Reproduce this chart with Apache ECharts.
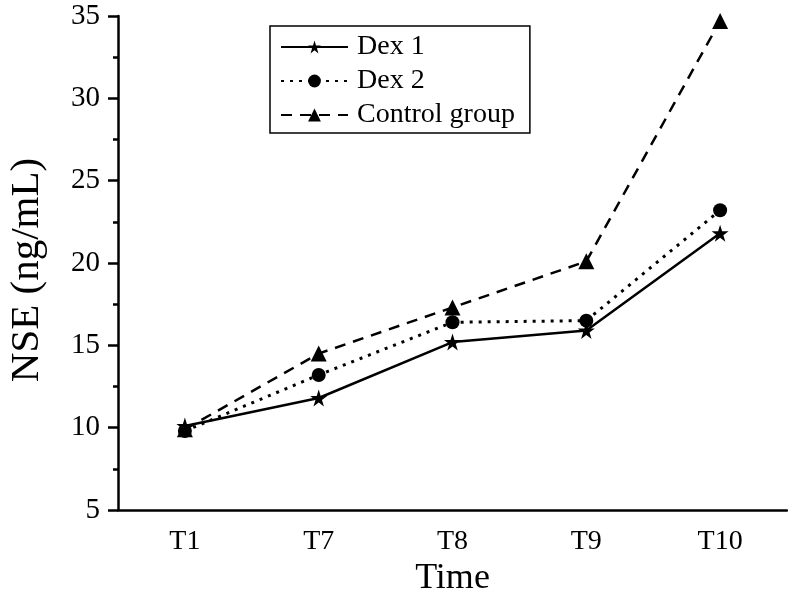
<!DOCTYPE html>
<html>
<head>
<meta charset="utf-8">
<script src="https://cdn.jsdelivr.net/npm/echarts@6/dist/echarts.min.js"></script>
<style>html,body{margin:0;padding:0;background:#fff;}#c{width:788px;height:600px;}</style>
</head>
<body>
<div id="c"></div>
<script>
var categories = ['T1', 'T7', 'T8', 'T9', 'T10'];
var dex1 = [10.1, 11.8, 15.2, 15.9, 21.8];
var dex2 = [9.8, 13.2, 16.4, 16.5, 23.2];
var control = [9.9, 14.5, 17.3, 20.1, 34.7];
var seriesNames = ['Dex 1', 'Dex 2', 'Control group'];

var FONT = '"Liberation Serif", "DejaVu Serif", serif';
var STAR = 'path://M50,0 L61.2,34.5 L97.6,34.5 L68.2,55.9 L79.4,90.5 L50,69.1 L20.6,90.5 L31.8,55.9 L2.4,34.5 L38.8,34.5 Z';

var chart = echarts.init(document.getElementById('c'), null, {renderer: 'canvas'});
chart.setOption({
  backgroundColor: '#fff',
  animation: false,
  grid: {left: 118, right: 1, top: 16, bottom: 90, containLabel: false, outerBoundsMode: 'none'},
  legend: {
    orient: 'vertical',
    left: 270, top: 26,
    itemWidth: 67, itemHeight: 16, itemGap: 4,
    padding: [6, 15, 3, 10],
    borderColor: '#000', borderWidth: 1.5,
    textStyle: {fontFamily: FONT, fontSize: 28, color: '#000', lineHeight: 30, padding: [0, 0, 0, 4]},
    data: seriesNames
  },
  xAxis: [{
    type: 'category',
    data: categories,
    boundaryGap: true,
    axisLine: {lineStyle: {color: '#000', width: 2.5}},
    axisTick: {alignWithLabel: true, length: 10, lineStyle: {color: '#000', width: 2.5}},
    axisLabel: {fontFamily: FONT, fontSize: 28, color: '#000', margin: 18},
    name: 'Time', nameLocation: 'middle', nameGap: 47,
    nameTextStyle: {fontFamily: FONT, fontSize: 36, color: '#000'},
    splitLine: {show: false}
  }, {
    type: 'category',
    data: categories,
    position: 'bottom',
    boundaryGap: true,
    axisLine: {show: false},
    axisTick: {alignWithLabel: false, length: 5, lineStyle: {color: '#000', width: 2.5}},
    axisLabel: {show: false},
    splitLine: {show: false}
  }],
  yAxis: {
    type: 'value',
    min: 5, max: 35, interval: 5,
    axisLine: {show: true, lineStyle: {color: '#000', width: 2.5}},
    axisTick: {show: true, length: 10, lineStyle: {color: '#000', width: 2.5}},
    minorTick: {show: true, splitNumber: 2, length: 5, lineStyle: {color: '#000', width: 2.5}},
    axisLabel: {fontFamily: FONT, fontSize: 29, color: '#000', margin: 18},
    splitLine: {show: false},
    name: 'NSE (ng/mL)', nameLocation: 'middle', nameGap: 70, nameRotate: 90,
    nameTextStyle: {fontFamily: FONT, fontSize: 41, color: '#000', padding: [0, 14, 0, 0]}
  },
  series: [{
    name: seriesNames[0], type: 'line', data: dex1,
    symbol: STAR, symbolSize: 17,
    lineStyle: {color: '#000', width: 2.5, type: 'solid'},
    itemStyle: {color: '#000'}
  }, {
    name: seriesNames[1], type: 'line', data: dex2,
    symbol: 'circle', symbolSize: 14,
    lineStyle: {color: '#000', width: 3, type: [3, 6]},
    itemStyle: {color: '#000'}
  }, {
    name: seriesNames[2], type: 'line', data: control,
    symbol: 'triangle', symbolSize: 16,
    lineStyle: {color: '#000', width: 2.5, type: [11, 8]},
    itemStyle: {color: '#000'}
  }]
});
</script>
</body>
</html>
